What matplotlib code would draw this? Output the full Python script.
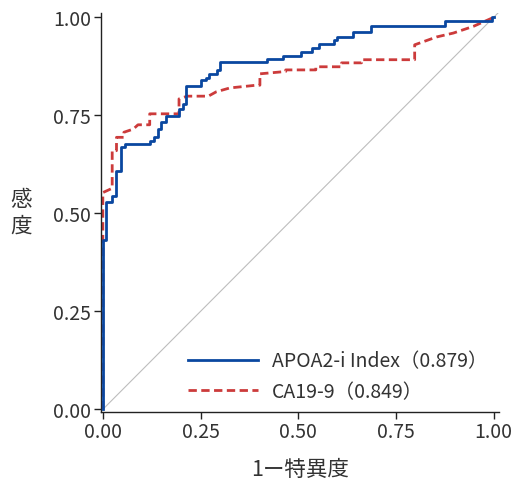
import numpy as np
import matplotlib
matplotlib.use('Agg')
import matplotlib.pyplot as plt

plt.rcParams['font.family'] = ['Noto Sans CJK JP', 'DejaVu Sans']

# ROC の角の座標
apoa2_fpr = [0, 0, 0.009, 0.009, 0.024, 0.024, 0.035, 0.035, 0.046, 0.046,
             0.056, 0.056, 0.12, 0.12, 0.13, 0.13, 0.14, 0.14, 0.15, 0.15,
             0.161, 0.161, 0.195, 0.195, 0.205, 0.205, 0.214, 0.214, 0.252, 0.252,
             0.263, 0.263, 0.271, 0.271, 0.291, 0.291, 0.299, 0.299, 0.421, 0.421,
             0.461, 0.461, 0.508, 0.508, 0.535, 0.535, 0.553, 0.553, 0.591, 0.591,
             0.6, 0.6, 0.639, 0.639, 0.685, 0.685, 0.875, 0.875, 0.996, 0.996, 1.0]
apoa2_tpr = [0, 0.433, 0.433, 0.528, 0.528, 0.544, 0.544, 0.608, 0.608, 0.669,
             0.669, 0.677, 0.677, 0.685, 0.685, 0.695, 0.695, 0.715, 0.715, 0.733,
             0.733, 0.749, 0.749, 0.767, 0.767, 0.779, 0.779, 0.826, 0.826, 0.839,
             0.839, 0.846, 0.846, 0.856, 0.856, 0.867, 0.867, 0.885, 0.885, 0.893,
             0.893, 0.901, 0.901, 0.912, 0.912, 0.922, 0.922, 0.933, 0.933, 0.942,
             0.942, 0.95, 0.95, 0.962, 0.962, 0.979, 0.979, 0.99, 0.99, 1.0, 1.0]

ca199_fpr = [0, 0, 0.024, 0.024, 0.035, 0.035, 0.054, 0.054, 0.078, 0.09,
             0.12, 0.12, 0.195, 0.195, 0.216, 0.27, 0.29, 0.325, 0.393, 0.402,
             0.402, 0.468, 0.468, 0.545, 0.545, 0.611, 0.611, 0.662, 0.662, 0.798,
             0.798, 0.854, 0.897, 0.948, 1.0]
ca199_tpr = [0, 0.553, 0.564, 0.66, 0.66, 0.694, 0.694, 0.707, 0.715, 0.726,
             0.726, 0.754, 0.754, 0.792, 0.799, 0.799, 0.81, 0.82, 0.827, 0.827,
             0.856, 0.862, 0.866, 0.866, 0.874, 0.874, 0.884, 0.884, 0.892, 0.892,
             0.93, 0.95, 0.96, 0.977, 1.0]

labels = ['APOA2-i Index（0.879）', 'CA19-9（0.849）']

fig = plt.figure(figsize=(5.12, 4.85), dpi=100)
ax = fig.add_axes([0.197, 0.149, 0.777, 0.822])

ax.axline((0, 0), (1, 1), color='#bdbdbd', lw=0.8, zorder=1)
ax.plot(apoa2_fpr, apoa2_tpr, color='#0a47a0', lw=2, label=labels[0], zorder=3)
ax.plot(ca199_fpr, ca199_tpr, color='#cc3b3b', lw=2, dashes=(3, 1.6),
        label=labels[1], zorder=2)

ax.set_xlim(-0.005, 1.013)
ax.set_ylim(-0.006, 1.011)
ticks = [0, 0.25, 0.5, 0.75, 1.0]
ax.set_xticks(ticks)
ax.set_yticks(ticks)
ax.set_xticklabels(['0.00', '0.25', '0.50', '0.75', '1.00'])
ax.set_yticklabels(['0.00', '0.25', '0.50', '0.75', '1.00'])
ax.tick_params(direction='out', length=5, width=1, color='#222222',
               labelsize=14, labelcolor='#333333', pad=2)

for s in ['top', 'right']:
    ax.spines[s].set_visible(False)
for s in ['left', 'bottom']:
    ax.spines[s].set_color('#222222')
    ax.spines[s].set_linewidth(1)

ax.set_xlabel('1ー特異度', fontsize=15.5, color='#333333')
ax.xaxis.set_label_coords(0.5, -0.115)
ax.set_ylabel('感\n度', fontsize=15.5, color='#333333', rotation=0,
              va='center', ha='center', linespacing=1.3)
ax.yaxis.set_label_coords(-0.2, 0.5)

ax.legend(loc='lower right', frameon=False, fontsize=14, handlelength=3.6,
          handletextpad=0.7, labelspacing=0.5, bbox_to_anchor=(1.015, -0.02),
          labelcolor='#333333')

fig.savefig('out.png', dpi=100)
